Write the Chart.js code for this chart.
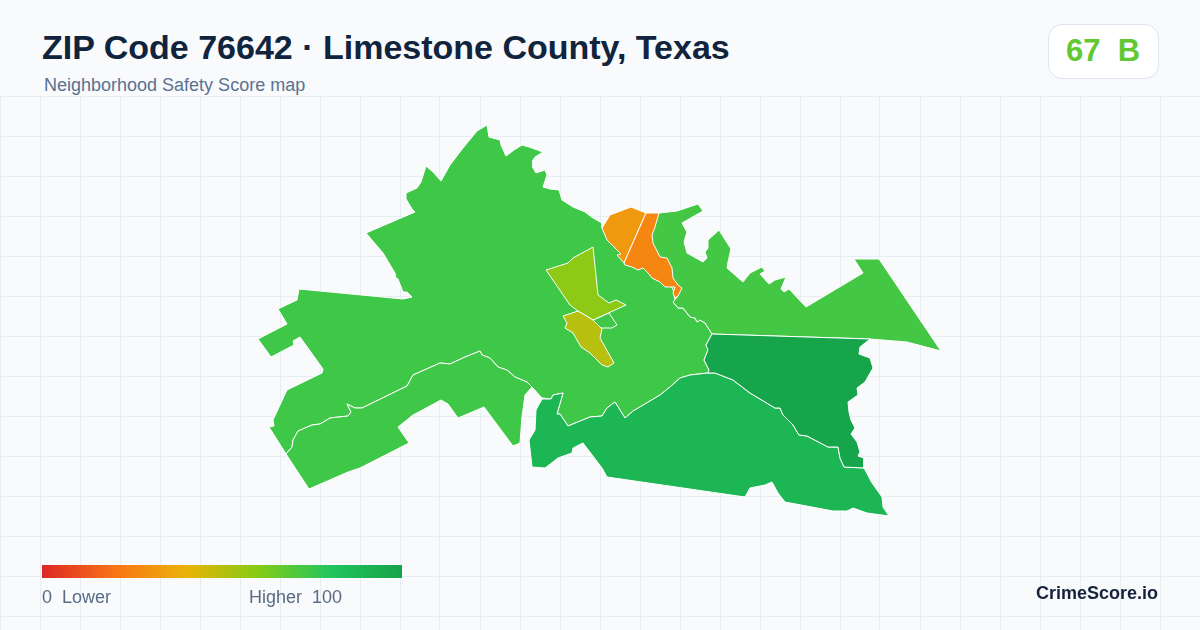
<!DOCTYPE html>
<html>
<head>
<meta charset="utf-8">
<title>ZIP Code 76642</title>
<script src="https://cdn.jsdelivr.net/npm/chart.js@4/dist/chart.umd.min.js"></script>
<style>
html,body{margin:0;padding:0;background:#f8fafc;width:1200px;height:630px;overflow:hidden}
body{position:relative;font-family:"Liberation Sans",Arial,sans-serif}
.t{position:absolute;white-space:pre;line-height:1}
#title{left:42px;top:30px;font-size:34px;font-weight:700;color:#10243e}
#sub{left:44px;top:76px;font-size:18px;color:#5a7190}
#badge{position:absolute;left:1048px;top:24px;width:109px;height:53px;background:#fff;border:1px solid #dde5ee;border-radius:14px}
#score{left:1066px;top:35px;font-size:31px;font-weight:700;color:#62c832}
#bar{position:absolute;left:42px;top:565px;width:360px;height:13px;background:linear-gradient(90deg,#dc2626 0%,#f97316 20%,#eab308 40%,#84cc16 60%,#22c55e 80%,#16a34a 100%)}
#lo{left:42px;top:588px;font-size:18px;color:#5a6b85}
#hi{left:249px;top:588px;font-size:18px;color:#5a6b85}
#brand{right:42px;top:584px;font-size:18px;font-weight:700;color:#14233a}
#wrap{position:absolute;left:0;top:96px;width:1200px;height:534px}
</style>
</head>
<body>
<div id="wrap"><canvas id="c" width="1200" height="534"></canvas></div>
<div class="t" id="title">ZIP Code 76642 · Limestone County, Texas</div>
<div class="t" id="sub">Neighborhood Safety Score map</div>
<div id="badge"></div>
<div class="t" id="score">67  B</div>
<div id="bar"></div>
<div class="t" id="lo">0  Lower</div>
<div class="t" id="hi">Higher  100</div>
<div class="t" id="brand">CrimeScore.io</div>
<script>
// Map units
const gridX = [0,40,80,120,160,200,240,280,320,360,400,440,480,520,560,600,640,680,720,760,800,840,880,920,960,1000,1040,1080,1120,1160,1200];
const gridY = [96,136,176,216,256,296,336,376,416,456,496,536,576,616];

const scoreStops = [0,20,40,60,80,100];
const stopColors = [[220,38,38],[249,115,22],[234,179,8],[132,204,22],[34,197,94],[22,163,74]];

const west = [[366,233],[415,212],[412,209],[406,199],[406,193],[417,188],[421,182],[426,166],[433,172],[441,181],[450,165],[463,148],[477,131],[487,125],[489,137],[500,140],[501,145],[506,156],[514,150],[522,145],[529,147],[543,152],[535,157],[533,160],[533,168],[536,173],[545,170],[547,175],[543,187],[550,189],[559,190],[562,200],[573,207],[585,212],[593,218],[602,223],[602,228],[615,235],[640,245],[660,275],[672,283],[675,300],[673,302],[678,308],[683,308],[690,317],[695,318],[697,322],[700,320],[705,323],[712,334],[706,345],[708,350],[704,360],[709,370],[708,373],[690,375],[680,378],[670,387],[660,395],[645,404],[633,411],[625,418],[615,402],[607,408],[602,416],[590,417],[568,426],[560,414],[557,414],[563,393],[553,395],[551,399],[542,398],[532,387],[527,382],[522,380],[515,377],[507,370],[498,367],[490,358],[482,355],[480,351],[465,357],[450,364],[440,363],[413,375],[407,386],[362,408],[355,408],[347,404],[351,412],[348,416],[330,418],[320,424],[312,425],[298,431],[293,440],[292,447],[286,454],[269,427],[274,426],[273,420],[287,390],[322,373],[323,369],[300,337],[293,341],[294,345],[271,357],[258,339],[287,324],[278,309],[297,300],[299,289],[403,299],[412,297],[407,292],[403,292],[398,279],[396,278],[395,273],[383,253]];

const south = [[286,454],[292,447],[293,440],[298,431],[312,425],[320,424],[330,418],[348,416],[351,412],[347,404],[355,408],[362,408],[407,386],[413,375],[440,363],[450,364],[465,357],[480,351],[482,355],[490,358],[498,367],[507,370],[515,377],[522,380],[527,382],[532,387],[525,395],[522,417],[520,443],[513,446],[484,407],[458,418],[448,404],[441,400],[413,415],[398,427],[409,443],[360,468],[348,472],[309,489]];

const northeast = [[659,213],[677,211],[698,204],[703,211],[682,223],[687,232],[684,242],[687,253],[703,262],[707,258],[705,252],[708,248],[708,240],[719,230],[731,249],[728,262],[727,268],[743,282],[750,273],[762,267],[765,271],[760,274],[769,284],[775,280],[786,277],[781,289],[784,292],[789,289],[806,307],[863,273],[854,259],[879,259],[941,351],[907,342],[870,339],[712,334],[705,323],[700,320],[697,322],[695,318],[690,317],[683,308],[678,308],[673,302],[678,296],[672,288],[662,265],[648,240],[650,213]];

const southeast = [[542,399],[551,399],[553,395],[563,393],[557,414],[560,414],[568,426],[590,417],[602,416],[607,408],[615,402],[625,418],[633,411],[645,404],[660,395],[670,387],[680,378],[690,375],[708,373],[715,373],[733,380],[750,393],[775,408],[780,408],[783,415],[793,425],[799,435],[807,436],[828,447],[838,447],[840,458],[844,467],[864,468],[872,483],[882,497],[883,507],[889,516],[867,513],[853,508],[847,511],[833,511],[785,502],[778,493],[772,482],[765,485],[750,488],[745,497],[607,477],[602,468],[583,443],[573,448],[572,453],[558,458],[545,468],[532,467],[529,440],[535,430],[536,410]];

const eastBlock = [[712,334],[870,339],[860,347],[859,354],[870,358],[873,368],[865,382],[857,388],[858,395],[848,402],[849,412],[851,420],[855,428],[851,434],[857,442],[860,452],[858,456],[864,458],[864,468],[844,467],[840,458],[838,447],[828,447],[807,436],[799,435],[793,425],[783,415],[780,408],[775,408],[750,393],[733,380],[715,373],[708,373],[709,370],[704,360],[708,350],[706,345]];

const island = [[593,320],[609,313],[617,325],[612,328],[601,328]];

const townNorth = [[593,247],[598,295],[609,303],[616,300],[626,305],[593,320],[578,311],[570,305],[546,270],[568,263],[573,258]];

const townSouth = [[563,316],[578,311],[593,320],[602,329],[600,338],[614,363],[608,367],[602,365],[590,353],[581,347],[573,333],[565,328],[567,323]];

const orangeWest = [[602,228],[610,215],[631,207],[646,213],[624,263],[617,255],[621,254],[607,240]];

const orangeEast = [[646,213],[659,213],[655,227],[652,235],[653,243],[660,257],[667,258],[672,268],[673,278],[678,285],[682,288],[678,296],[675,298],[673,293],[675,287],[665,287],[660,282],[652,278],[648,273],[643,268],[638,270],[632,267],[625,265],[624,263]];

const shapes = [west,south,northeast,southeast,eastBlock,island,townNorth,townSouth,orangeWest,orangeEast];
const scores = [74,74,73,89,99,74,58,50,32,26];

function scoreColor(s){
  let i = 0;
  while(i < scoreStops.length-2 && s > scoreStops[i+1]) i++;
  const f = (s-scoreStops[i])/(scoreStops[i+1]-scoreStops[i]);
  const c = stopColors[i].map((v,k)=>Math.round(v+(stopColors[i+1][k]-v)*f));
  return `rgb(${c[0]},${c[1]},${c[2]})`;
}

const datasets = shapes.map((pts,i)=>({
  data: pts.concat([pts[0]]).map(p=>({x:p[0],y:p[1]})),
  showLine:true,
  fill:'shape',
  backgroundColor:scoreColor(scores[i]),
  borderColor:'#ffffff',
  borderWidth:1,
  pointRadius:0,
  tension:0,
  order:shapes.length-i,
  clip:false
}));

new Chart(document.getElementById('c'),{
  type:'scatter',
  data:{datasets},
  options:{
    responsive:false,
    animation:false,
    layout:{padding:0},
    plugins:{legend:{display:false},tooltip:{enabled:false},title:{display:false}},
    scales:{
      x:{type:'linear',min:0,max:1200,
        afterBuildTicks:s=>{s.ticks=gridX.map(v=>({value:v}))},
        grid:{color:'#e6eef3',lineWidth:1,drawTicks:false},
        border:{display:false},ticks:{display:false}},
      y:{type:'linear',min:96,max:630,reverse:true,
        afterBuildTicks:s=>{s.ticks=gridY.map(v=>({value:v}))},
        grid:{color:'#e6eef3',lineWidth:1,drawTicks:false},
        border:{display:false},ticks:{display:false}}
    }
  }
});
</script>
</body>
</html>
